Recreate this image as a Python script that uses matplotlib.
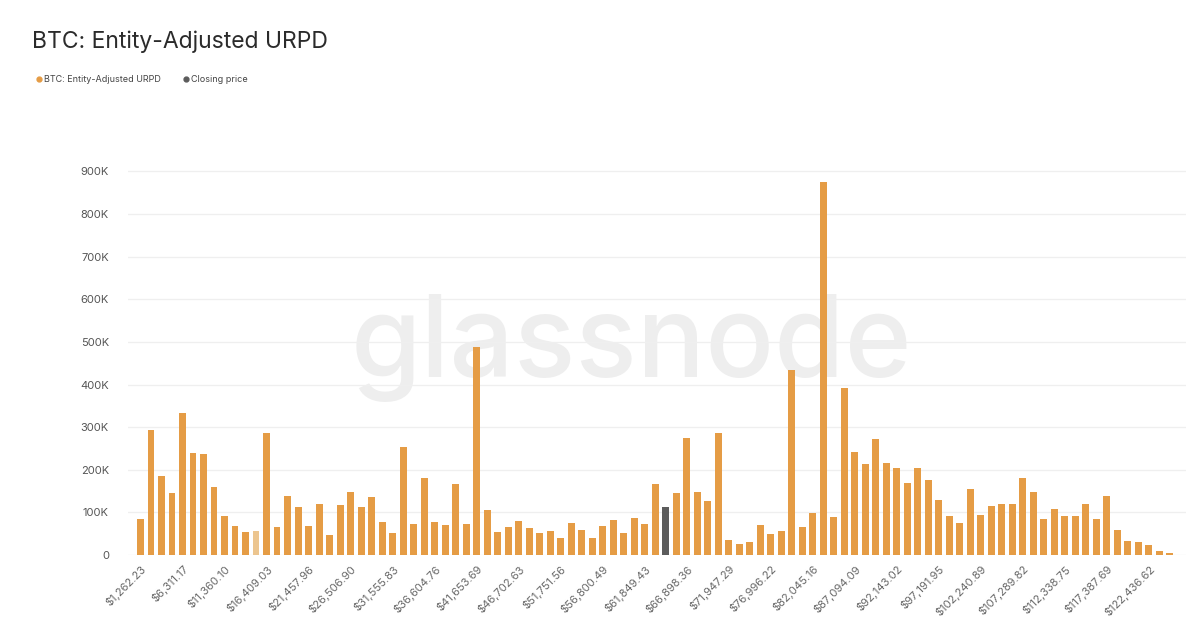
import matplotlib
matplotlib.use('Agg')
import matplotlib.pyplot as plt
from matplotlib.lines import Line2D
from matplotlib.ticker import FuncFormatter

plt.rcParams['font.family'] = ['Inter', 'DejaVu Sans']

# supply per price bucket, in thousands of BTC
urpd_k = [
    84, 293, 185, 145, 333, 239, 236, 160, 91, 68,
    55, 56, 287, 66, 138, 113, 68, 120, 47, 117,
    148, 112, 136, 78, 51, 253, 74, 180, 78, 70,
    167, 73, 487, 105, 55, 66, 79, 63, 51, 56,
    40, 75, 60, 41, 69, 82, 53, 88, 74, 167,
    112, 146, 274, 148, 127, 286, 35, 25, 30, 70,
    49, 56, 434, 66, 99, 876, 90, 391, 241, 213,
    272, 215, 205, 170, 205, 176, 129, 92, 76, 154,
    94, 115, 120, 119, 180, 149, 84, 107, 92, 92,
    121, 84, 139, 60, 34, 30, 23, 10, 4,
]
closing_bucket = 50   # index of the bucket holding the closing price
pale_bucket = 11

tick_labels = [
    '$1,262.23', '$6,311.17', '$11,360.10', '$16,409.03', '$21,457.96',
    '$26,506.90', '$31,555.83', '$36,604.76', '$41,653.69', '$46,702.63',
    '$51,751.56', '$56,800.49', '$61,849.43', '$66,898.36', '$71,947.29',
    '$76,996.22', '$82,045.16', '$87,094.09', '$92,143.02', '$97,191.95',
    '$102,240.89', '$107,289.82', '$112,338.75', '$117,387.69', '$122,436.62',
]
tick_step = 4

orange = '#e59c45'
dark = '#5c5c5c'
pale = '#ecc58f'

fig = plt.figure(figsize=(12, 6.41), dpi=100)
ax = fig.add_axes([0.107, 0.134, 0.881, 0.632])

colors = []
for i in range(len(urpd_k)):
    if i == closing_bucket:
        colors.append(dark)
    elif i == pale_bucket:
        colors.append(pale)
    else:
        colors.append(orange)

x = list(range(len(urpd_k)))
ax.bar(x, [v * 1000 for v in urpd_k], width=0.66, color=colors, zorder=3)

ax.set_ylim(0, 950000)
ax.set_xlim(-1.15, len(urpd_k) + 0.5)
ax.set_yticks(range(0, 1000000, 100000))
ax.yaxis.set_major_formatter(FuncFormatter(lambda v, p: '0' if v == 0 else '%dK' % (v / 1000)))
ax.grid(axis='y', color='#efefef', linewidth=0.9, zorder=0)
for s in ax.spines.values():
    s.set_visible(False)
ax.tick_params(axis='both', length=0, colors='#555555', labelsize=8)
ax.tick_params(axis='y', pad=14)

ax.set_xticks(x[::tick_step])
ax.set_xticklabels(tick_labels, rotation=45, ha='right', rotation_mode='anchor', color='#666666', fontsize=8)
ax.tick_params(axis='x', pad=6)

# watermark
ax.text(0.476, 0.44, 'glassnode', transform=ax.transAxes, fontsize=82, color='#eeeeee',
        ha='center', va='baseline', zorder=1, fontweight='medium')

fig.text(0.027, 0.925, 'BTC: Entity-Adjusted URPD', fontsize=16.5, color='#2b2b2b', va='baseline')

handles = [
    Line2D([], [], marker='o', linestyle='', color=orange, markersize=3.5),
    Line2D([], [], marker='o', linestyle='', color=dark, markersize=3.5),
]
fig.legend(handles, ['BTC: Entity-Adjusted URPD', 'Closing price'], loc='upper left',
           bbox_to_anchor=(0.022, 0.895), ncol=2, frameon=False, fontsize=6.5,
           handletextpad=0.1, columnspacing=2.2, handlelength=1.0, labelcolor='#444444')

fig.savefig('out.png', dpi=100, facecolor='white')
